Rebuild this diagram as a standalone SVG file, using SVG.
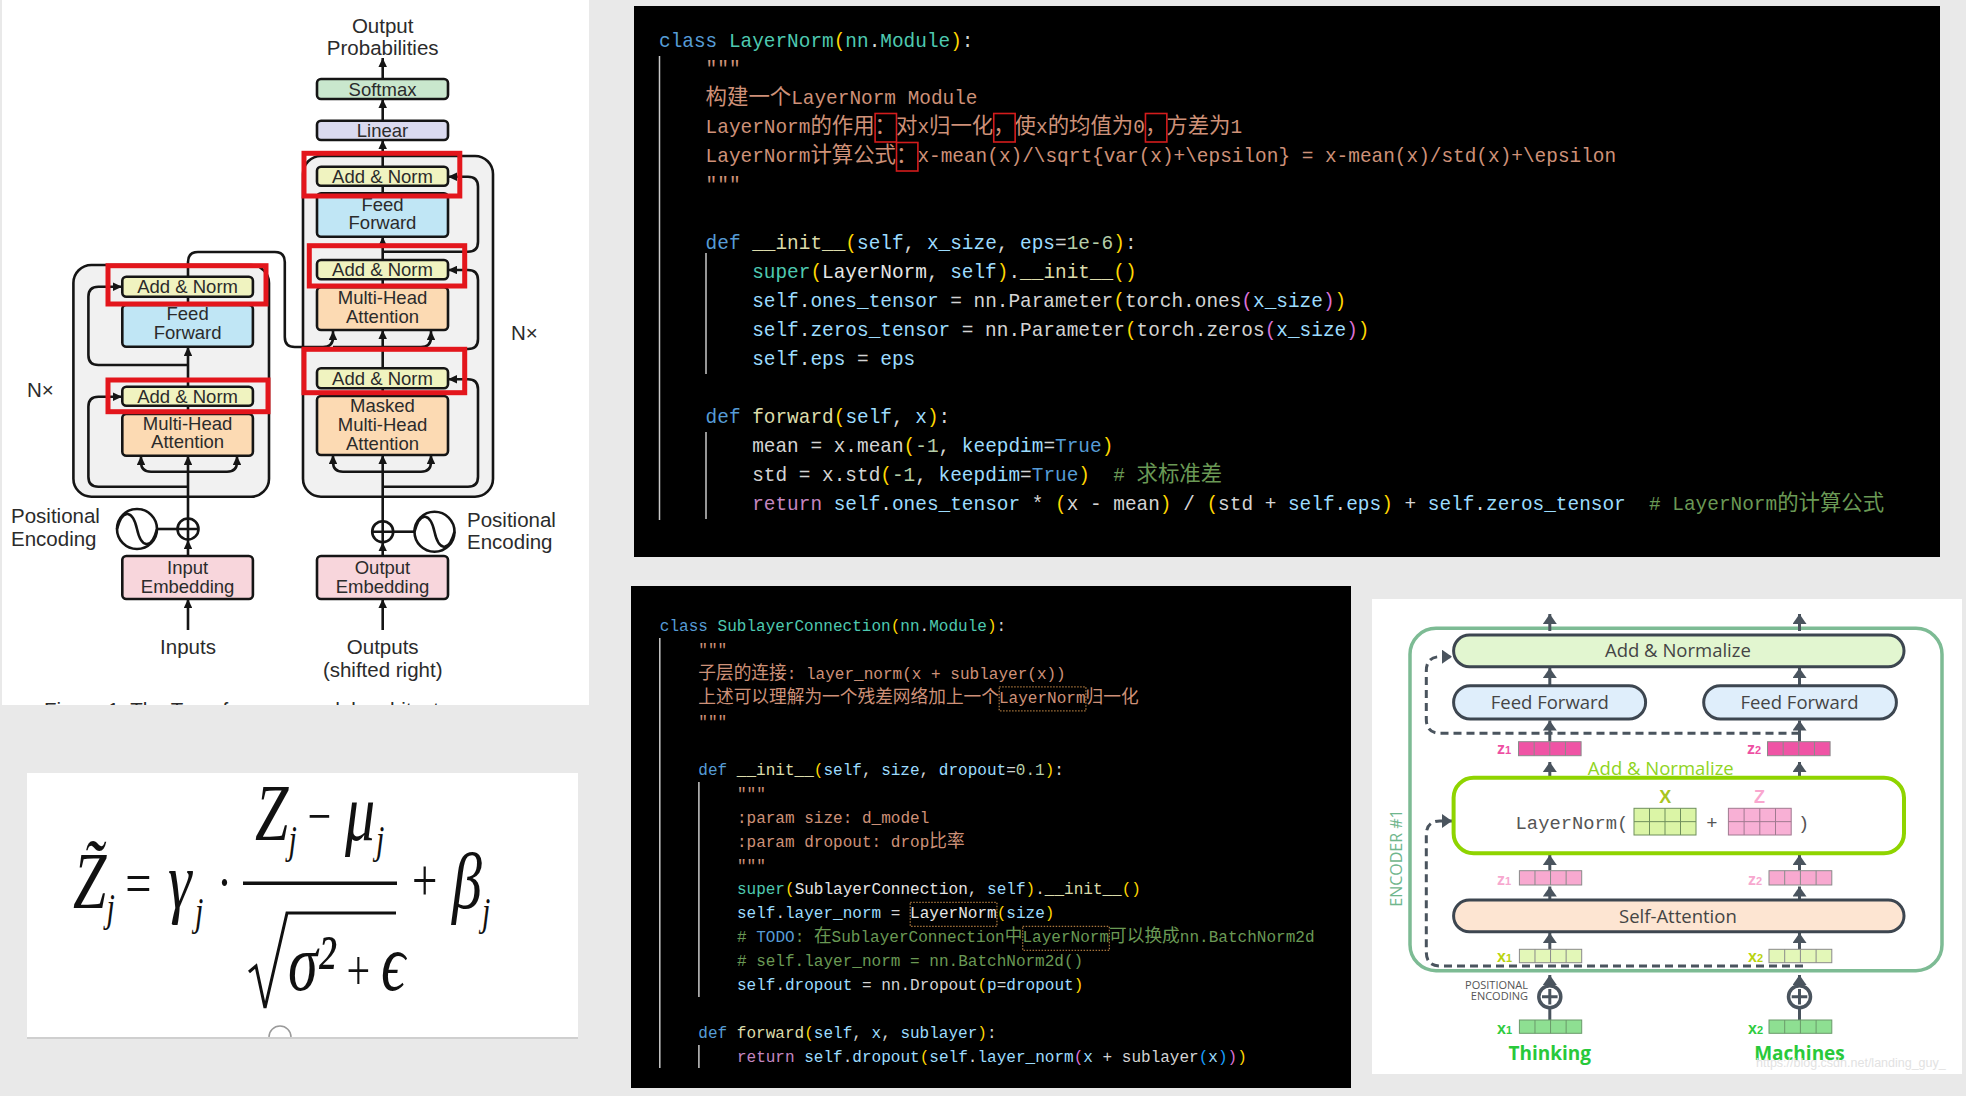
<svg xmlns="http://www.w3.org/2000/svg" width="1966" height="1096" viewBox="0 0 1966 1096">
<defs>
<style>
.tb{stroke:#151515;stroke-width:2.6}
.tl{font-family:"Liberation Sans",Arial,sans-serif;font-size:18.5px;fill:#2b2b2b;text-anchor:middle}
.tlb{font-family:"Liberation Sans",Arial,sans-serif;font-size:20.5px;fill:#2b2b2b}
.cn{fill:none;stroke:#151515;stroke-width:2.6}
.ar{marker-end:url(#ah)}
.red{fill:none;stroke:#e3161c;stroke-width:5}
.code1{font-family:"Liberation Mono","DejaVu Sans Mono",monospace;font-size:19.42px;fill:#d4d4d4;white-space:pre}
.code2{font-family:"Liberation Mono","DejaVu Sans Mono",monospace;font-size:16.05px;fill:#d4d4d4;white-space:pre}
.zh{font-family:"Noto Sans CJK SC",sans-serif;font-size:21.4px}
.zh2{font-family:"Noto Sans CJK SC",sans-serif;font-size:17.7px}
.k{fill:#569cd6}.t{fill:#4ec9b0}.s{fill:#ce9178}.f{fill:#dcdcaa}.v{fill:#9cdcfe}.n{fill:#b5cea8}.c{fill:#6a9955}.p1{fill:#ffd700}.p2{fill:#da70d6}.p3{fill:#179fff}.r{fill:#c586c0}.w{fill:#e6e6e6}
.guide{stroke:#c8c8c8;stroke-width:1.5}
.ubox{fill:none;stroke:#d41c1c;stroke-width:1.6}
.dbox{fill:none;stroke:#a8753c;stroke-width:1.3;stroke-dasharray:1.5 1.5}
.eb{stroke:#3d4650;stroke-width:3}
.el{font-family:"Open Sans","Liberation Sans",sans-serif;font-size:18.5px;fill:#454545;text-anchor:middle}
.ec{fill:none;stroke:#4a545e;stroke-width:3}
.ea{marker-end:url(#ah2)}
.dash{stroke-dasharray:8 5}
.cell{stroke:#8a8a8a;stroke-width:1}
.vl{font-family:"Liberation Sans",Arial,sans-serif;font-weight:bold;font-size:16px}
.fm{font-family:"Liberation Serif","DejaVu Serif",serif;font-style:italic;fill:#111}
.fr{font-style:normal}
</style>
<marker id="ah" viewBox="0 0 10 10" refX="10" refY="5" markerWidth="9" markerHeight="8.5" markerUnits="userSpaceOnUse" orient="auto" preserveAspectRatio="none"><path d="M0,0 L10,5 L0,10 z" fill="#151515"/></marker>
<marker id="ah2" viewBox="0 0 10 10" refX="10" refY="5" markerWidth="10" markerHeight="14" markerUnits="userSpaceOnUse" orient="auto" preserveAspectRatio="none"><path d="M0,0 L10,5 L0,10 z" fill="#4a545e"/></marker>
<clipPath id="capclip"><rect x="0" y="690" width="590" height="15"/></clipPath>
</defs>
<rect width="1966" height="1096" fill="#e9e9e9"/>

<!-- ============ Transformer panel ============ -->
<g id="panel-transformer">
<rect x="2" y="0" width="587" height="705" fill="#fff"/>
<g id="enc-block"><rect x="73.4" y="265" width="195.6" height="231.7" rx="18" fill="#f1f1f1" class="tb"/></g>
<g id="dec-block"><rect x="303" y="156" width="190" height="340.7" rx="18" fill="#f1f1f1" class="tb"/></g>

<g id="tf-connectors">
<path class="cn ar" d="M188,630 V599"/>
<path class="cn ar" d="M188,556 V540"/>
<path class="cn ar" d="M188,518.5 V456"/>
<path class="cn ar" d="M188,471.7 H151 Q141,471.7 141,461.7 V456"/>
<path class="cn ar" d="M188,471.7 H227 Q237,471.7 237,461.7 V456"/>
<path class="cn ar" d="M188,486.7 H98.4 Q88.4,486.7 88.4,476.7 V406.7 Q88.4,396.7 98.4,396.7 H122"/>
<path class="cn" d="M188,414 V405.7"/>
<path class="cn ar" d="M188,386.7 V347"/>
<path class="cn ar" d="M188,365 H98.4 Q88.4,365 88.4,355 V296.7 Q88.4,286.7 98.4,286.7 H122"/>
<path class="cn" d="M188,305 V296.7"/>
<path class="cn ar" d="M188,276.7 V262 Q188,252 198,252 H274.8 Q284.8,252 284.8,262 V337 Q284.8,347 294.8,347 H323 Q333,347 333,337 V331"/>
<path class="cn ar" d="M333,347 H421 Q431,347 431,337 V331"/>
<path class="cn" d="M157,529 H177.5"/>
<path class="cn ar" d="M382.7,630 V599"/>
<path class="cn ar" d="M382.7,556 V542.2"/>
<path class="cn ar" d="M382.7,521.2 V455"/>
<path class="cn ar" d="M382.7,471.7 H343 Q333,471.7 333,461.7 V455"/>
<path class="cn ar" d="M382.7,471.7 H421 Q431,471.7 431,461.7 V455"/>
<path class="cn ar" d="M382.7,486.7 H468 Q478,486.7 478,476.7 V389.3 Q478,379.3 468,379.3 H448"/>
<path class="cn" d="M382.7,396 V388.3"/>
<path class="cn ar" d="M382.7,368.3 V330"/>
<path class="cn ar" d="M382.7,349 H468 Q478,349 478,339 V280 Q478,270 468,270 H448"/>
<path class="cn" d="M382.7,287.3 V279.3"/>
<path class="cn ar" d="M382.7,260 V236.7"/>
<path class="cn ar" d="M382.7,251.7 H468 Q478,251.7 478,241.7 V186.7 Q478,176.7 468,176.7 H448"/>
<path class="cn" d="M382.7,193.3 V185.7"/>
<path class="cn ar" d="M382.7,166.7 V140"/>
<path class="cn ar" d="M382.7,120.7 V99"/>
<path class="cn ar" d="M382.7,79 V58"/>
<path class="cn" d="M393.2,531.7 H414.5"/>
</g>

<g id="enc-addnorm-top"><rect x="122.3" y="276.7" width="130.6" height="20" rx="4" fill="#f0f3c0" class="tb"/><text class="tl" x="187.6" y="293.3">Add &amp; Norm</text></g>
<g id="enc-ff"><rect x="122.3" y="305" width="130.6" height="41.7" rx="4" fill="#c0e6f5" class="tb"/><text class="tl" x="187.6" y="320">Feed</text><text class="tl" x="187.6" y="339">Forward</text></g>
<g id="enc-addnorm-2"><rect x="122.3" y="386.7" width="130.6" height="19" rx="4" fill="#f0f3c0" class="tb"/><text class="tl" x="187.6" y="402.8">Add &amp; Norm</text></g>
<g id="enc-mha"><rect x="122.3" y="414" width="130.6" height="41.7" rx="4" fill="#fcdab3" class="tb"/><text class="tl" x="187.6" y="430">Multi-Head</text><text class="tl" x="187.6" y="448.3">Attention</text></g>
<g id="enc-emb"><rect x="122.3" y="556" width="130.6" height="43" rx="4" fill="#f8d6dc" class="tb"/><text class="tl" x="187.6" y="574.3">Input</text><text class="tl" x="187.6" y="593.3">Embedding</text></g>
<g id="enc-plus"><circle cx="188" cy="529" r="10.5" fill="#fff" class="tb"/><path class="cn" d="M177.5,529 H198.5 M188,518.5 V539.5"/></g>
<g id="enc-wave"><circle cx="137" cy="529" r="20" fill="#fff" class="tb"/><path class="cn" d="M117,529 C123,507 133,511 137,529 C141,547 151,551 157,529"/></g>

<g id="dec-softmax"><rect x="317" y="79" width="131" height="20" rx="4" fill="#c9e7cd" class="tb"/><text class="tl" x="382.5" y="95.6">Softmax</text></g>
<g id="dec-linear"><rect x="317" y="120.7" width="131" height="19.3" rx="4" fill="#dadaef" class="tb"/><text class="tl" x="382.5" y="137">Linear</text></g>
<g id="dec-addnorm-1"><rect x="317" y="166.7" width="131" height="19" rx="4" fill="#f0f3c0" class="tb"/><text class="tl" x="382.5" y="182.8">Add &amp; Norm</text></g>
<g id="dec-ff"><rect x="317" y="193.3" width="131" height="43.4" rx="4" fill="#c0e6f5" class="tb"/><text class="tl" x="382.5" y="210.6">Feed</text><text class="tl" x="382.5" y="229.3">Forward</text></g>
<g id="dec-addnorm-2"><rect x="317" y="260" width="131" height="19.3" rx="4" fill="#f0f3c0" class="tb"/><text class="tl" x="382.5" y="276.3">Add &amp; Norm</text></g>
<g id="dec-mha"><rect x="317" y="287.3" width="131" height="42.7" rx="4" fill="#fcdab3" class="tb"/><text class="tl" x="382.5" y="304.3">Multi-Head</text><text class="tl" x="382.5" y="323.3">Attention</text></g>
<g id="dec-addnorm-3"><rect x="317" y="368.3" width="131" height="20" rx="4" fill="#f0f3c0" class="tb"/><text class="tl" x="382.5" y="385">Add &amp; Norm</text></g>
<g id="dec-mmha"><rect x="317" y="396" width="131" height="59" rx="4" fill="#fcdab3" class="tb"/><text class="tl" x="382.5" y="412.3">Masked</text><text class="tl" x="382.5" y="431">Multi-Head</text><text class="tl" x="382.5" y="450">Attention</text></g>
<g id="dec-emb"><rect x="317" y="556" width="131" height="43" rx="4" fill="#f8d6dc" class="tb"/><text class="tl" x="382.5" y="574.3">Output</text><text class="tl" x="382.5" y="593.3">Embedding</text></g>
<g id="dec-plus"><circle cx="382.7" cy="531.7" r="10.5" fill="#fff" class="tb"/><path class="cn" d="M372.2,531.7 H393.2 M382.7,521.2 V542.2"/></g>
<g id="dec-wave"><circle cx="434.5" cy="531.7" r="20" fill="#fff" class="tb"/><path class="cn" d="M414.5,531.7 C420.5,509.7 430.5,513.7 434.5,531.7 C438.5,549.7 448.5,553.7 454.5,531.7"/></g>

<g id="tf-labels">
<text class="tlb" x="382.7" y="32.5" text-anchor="middle">Output</text>
<text class="tlb" x="382.7" y="54.5" text-anchor="middle">Probabilities</text>
<text class="tlb" x="188" y="654" text-anchor="middle">Inputs</text>
<text class="tlb" x="382.7" y="654" text-anchor="middle">Outputs</text>
<text class="tlb" x="382.7" y="676.5" text-anchor="middle">(shifted right)</text>
<text class="tlb" x="11" y="523">Positional</text>
<text class="tlb" x="11" y="545.5">Encoding</text>
<text class="tlb" x="467" y="526.5">Positional</text>
<text class="tlb" x="467" y="548.7">Encoding</text>
<text class="tlb" x="27" y="397">N×</text>
<text class="tlb" x="511" y="340">N×</text>
</g>

<g id="red-highlights">
<rect class="red" x="304" y="153.3" width="155.8" height="42.7"/>
<rect class="red" x="309.3" y="245.7" width="155.4" height="40.3"/>
<rect class="red" x="304" y="349.3" width="160.7" height="43.4"/>
<rect class="red" x="108" y="265.7" width="158" height="38.3"/>
<rect class="red" x="108" y="380" width="160" height="31.7"/>
</g>
<text class="tlb" x="44" y="716.5" font-size="21" clip-path="url(#capclip)">Figure 1: The Transformer - model architecture.</text>
</g>

<!-- ============ Formula panel ============ -->
<g id="panel-formula">
<rect x="27" y="773" width="551" height="264" fill="#fff"/>
<line x1="27" y1="1038" x2="578" y2="1038" stroke="#cfcfcf" stroke-width="2"/>
<path d="M269,1037 A11,11 0 0 1 291,1037" fill="#fff" stroke="#9a9a9a" stroke-width="1.5"/>
<g id="formula">
<rect x="243" y="881.5" width="154" height="3.5" fill="#111"/>
<polyline points="249,972 256,966 265,1008 287,913 396,913" fill="none" stroke="#111" stroke-width="3"/>
<g transform="scale(0.75,1)">
<text class="fm" font-size="80"><tspan x="97.33" y="908">Z&#x303;</tspan><tspan x="142" y="921" font-size="40">j</tspan><tspan class="fr" x="167" y="904" font-size="62">=</tspan><tspan x="224" y="908">γ</tspan><tspan x="260" y="925" font-size="40">j</tspan><tspan class="fr" x="289.33" y="902" font-size="60">·</tspan><tspan x="340" y="840">Z</tspan><tspan x="384.67" y="853" font-size="40">j</tspan><tspan class="fr" x="410" y="835" font-size="56">−</tspan><tspan x="460" y="840">μ</tspan><tspan x="501.33" y="853" font-size="40">j</tspan><tspan x="384" y="990">σ²</tspan><tspan class="fr" x="462" y="990" font-size="56">+</tspan><tspan x="508" y="990">ϵ</tspan><tspan class="fr" x="549.33" y="900" font-size="60">+</tspan><tspan x="602.67" y="908">β</tspan><tspan x="642.67" y="925" font-size="40">j</tspan></text>
</g>
</g>
</g>

<!-- ============ Code panel 1 ============ -->
<g id="panel-code-layernorm">
<rect x="634" y="6" width="1306" height="551" fill="#000"/>
<path class="guide" d="M659.5,56 V520 M706,253 V374 M706,432 V519"/>
<g xml:space="preserve">
<text class="code1" x="659" y="46.5"><tspan class="k">class</tspan> <tspan class="t">LayerNorm</tspan><tspan class="p1">(</tspan><tspan class="t">nn</tspan>.<tspan class="t">Module</tspan><tspan class="p1">)</tspan>:</text>
<text class="code1 s" x="705.6" y="75.45">"""</text>
<text class="code1 s" x="705.6" y="104.4"><tspan class="zh">构建一个</tspan>LayerNorm Module</text>
<text class="code1 s" x="705.6" y="133.35">LayerNorm<tspan class="zh">的作用：对</tspan>x<tspan class="zh">归一化，使</tspan>x<tspan class="zh">的均值为</tspan>0<tspan class="zh">，方差为</tspan>1</text>
<text class="code1 s" x="705.6" y="162.3">LayerNorm<tspan class="zh">计算公式：</tspan>x-mean(x)/\sqrt{var(x)+\epsilon} = x-mean(x)/std(x)+\epsilon</text>
<text class="code1 s" x="705.6" y="191.25">"""</text>
<text class="code1" x="705.6" y="249.15"><tspan class="k">def</tspan> <tspan class="f">__init__</tspan><tspan class="p1">(</tspan><tspan class="v">self</tspan>, <tspan class="v">x_size</tspan>, <tspan class="v">eps</tspan>=<tspan class="n">1e-6</tspan><tspan class="p1">)</tspan>:</text>
<text class="code1" x="752.2" y="278.1"><tspan class="t">super</tspan><tspan class="p1">(</tspan><tspan class="w">LayerNorm</tspan>, <tspan class="v">self</tspan><tspan class="p1">)</tspan>.<tspan class="f">__init__</tspan><tspan class="p1">()</tspan></text>
<text class="code1" x="752.2" y="307.05"><tspan class="v">self</tspan>.<tspan class="v">ones_tensor</tspan> = nn.Parameter<tspan class="p1">(</tspan>torch.ones<tspan class="p2">(</tspan><tspan class="v">x_size</tspan><tspan class="p2">)</tspan><tspan class="p1">)</tspan></text>
<text class="code1" x="752.2" y="336"><tspan class="v">self</tspan>.<tspan class="v">zeros_tensor</tspan> = nn.Parameter<tspan class="p1">(</tspan>torch.zeros<tspan class="p2">(</tspan><tspan class="v">x_size</tspan><tspan class="p2">)</tspan><tspan class="p1">)</tspan></text>
<text class="code1" x="752.2" y="364.95"><tspan class="v">self</tspan>.<tspan class="v">eps</tspan> = <tspan class="v">eps</tspan></text>
<text class="code1" x="705.6" y="422.85"><tspan class="k">def</tspan> <tspan class="f">forward</tspan><tspan class="p1">(</tspan><tspan class="v">self</tspan>, <tspan class="v">x</tspan><tspan class="p1">)</tspan>:</text>
<text class="code1" x="752.2" y="451.8">mean = x.mean<tspan class="p1">(</tspan><tspan class="n">-1</tspan>, <tspan class="v">keepdim</tspan>=<tspan class="k">True</tspan><tspan class="p1">)</tspan></text>
<text class="code1" x="752.2" y="480.75">std = x.std<tspan class="p1">(</tspan><tspan class="n">-1</tspan>, <tspan class="v">keepdim</tspan>=<tspan class="k">True</tspan><tspan class="p1">)</tspan><tspan class="c">  # <tspan class="zh">求标准差</tspan></tspan></text>
<text class="code1" x="752.2" y="509.7"><tspan class="r">return</tspan> <tspan class="v">self</tspan>.<tspan class="v">ones_tensor</tspan> * <tspan class="p1">(</tspan>x - mean<tspan class="p1">)</tspan> / <tspan class="p1">(</tspan>std + <tspan class="v">self</tspan>.<tspan class="v">eps</tspan><tspan class="p1">)</tspan> + <tspan class="v">self</tspan>.<tspan class="v">zeros_tensor</tspan><tspan class="c">  # LayerNorm<tspan class="zh">的计算公式</tspan></tspan></text>
</g>
<rect class="ubox" x="875.1" y="113.5" width="21.4" height="28.5"/>
<rect class="ubox" x="993.75" y="113.5" width="21.4" height="28.5"/>
<rect class="ubox" x="1145.45" y="113.5" width="21.4" height="28.5"/>
<rect class="ubox" x="896.5" y="142.5" width="21.4" height="28.5"/>
</g>

<!-- ============ Code panel 2 ============ -->
<g id="panel-code-sublayer">
<rect x="631" y="586" width="720" height="502" fill="#000"/>
<path class="guide" d="M659.8,638 V1068 M698.9,782 V997 M698.9,1045 V1068"/>
<g xml:space="preserve">
<text class="code2" x="659.8" y="631"><tspan class="k">class</tspan> <tspan class="t">SublayerConnection</tspan><tspan class="p1">(</tspan><tspan class="t">nn</tspan>.<tspan class="t">Module</tspan><tspan class="p1">)</tspan>:</text>
<text class="code2 s" x="698.3" y="654.95">"""</text>
<text class="code2 s" x="698.3" y="678.9"><tspan class="zh2">子层的连接</tspan>: layer_norm(x + sublayer(x))</text>
<text class="code2 s" x="698.3" y="702.85"><tspan class="zh2">上述可以理解为一个残差网络加上一个</tspan>LayerNorm<tspan class="zh2">归一化</tspan></text>
<text class="code2 s" x="698.3" y="726.8">"""</text>
<text class="code2" x="698.3" y="774.7"><tspan class="k">def</tspan> <tspan class="f">__init__</tspan><tspan class="p1">(</tspan><tspan class="v">self</tspan>, <tspan class="v">size</tspan>, <tspan class="v">dropout</tspan>=<tspan class="n">0.1</tspan><tspan class="p1">)</tspan>:</text>
<text class="code2 s" x="736.9" y="798.65">"""</text>
<text class="code2 s" x="736.9" y="822.6">:param size: d_model</text>
<text class="code2 s" x="736.9" y="846.55">:param dropout: drop<tspan class="zh2">比率</tspan></text>
<text class="code2 s" x="736.9" y="870.5">"""</text>
<text class="code2" x="736.9" y="894.45"><tspan class="t">super</tspan><tspan class="p1">(</tspan><tspan class="w">SublayerConnection</tspan>, <tspan class="v">self</tspan><tspan class="p1">)</tspan>.<tspan class="f">__init__</tspan><tspan class="p1">()</tspan></text>
<text class="code2" x="736.9" y="918.4"><tspan class="v">self</tspan>.<tspan class="v">layer_norm</tspan> = <tspan class="w">LayerNorm</tspan><tspan class="p1">(</tspan><tspan class="v">size</tspan><tspan class="p1">)</tspan></text>
<text class="code2 c" x="736.9" y="942.35"># <tspan class="k">TODO</tspan>: <tspan class="zh2">在</tspan>SublayerConnection<tspan class="zh2">中</tspan>LayerNorm<tspan class="zh2">可以换成</tspan>nn.BatchNorm2d</text>
<text class="code2 c" x="736.9" y="966.3"># self.layer_norm = nn.BatchNorm2d()</text>
<text class="code2" x="736.9" y="990.25"><tspan class="v">self</tspan>.<tspan class="v">dropout</tspan> = nn.Dropout<tspan class="p1">(</tspan><tspan class="v">p</tspan>=<tspan class="v">dropout</tspan><tspan class="p1">)</tspan></text>
<text class="code2" x="698.3" y="1038.15"><tspan class="k">def</tspan> <tspan class="f">forward</tspan><tspan class="p1">(</tspan><tspan class="v">self</tspan>, <tspan class="v">x</tspan>, <tspan class="v">sublayer</tspan><tspan class="p1">)</tspan>:</text>
<text class="code2" x="736.9" y="1062.1"><tspan class="r">return</tspan> <tspan class="v">self</tspan>.<tspan class="v">dropout</tspan><tspan class="p1">(</tspan><tspan class="v">self</tspan>.<tspan class="v">layer_norm</tspan><tspan class="p2">(</tspan><tspan class="v">x</tspan> + sublayer<tspan class="p3">(</tspan><tspan class="v">x</tspan><tspan class="p3">)</tspan><tspan class="p2">)</tspan><tspan class="p1">)</tspan></text>
</g>
<rect class="dbox" x="999.2" y="686.85" width="86.7" height="24"/>
<rect class="dbox" x="910.24" y="902.4" width="86.7" height="24"/>
<rect class="dbox" x="1022.68" y="926.35" width="86.7" height="24"/>
</g>

<!-- ============ Encoder illustration ============ -->
<g id="panel-encoder">
<rect x="1372" y="599" width="590" height="475" fill="#fff"/>
<g id="encoder-frame"><rect x="1410" y="628.3" width="532" height="342.4" rx="26" fill="none" stroke="#7dbb94" stroke-width="3.5"/>
<text transform="translate(1401.5,858) rotate(-90)" text-anchor="middle" font-family="'Open Sans','Liberation Sans',sans-serif" font-size="16" fill="#6fb68c">ENCODER #1</text></g>

<g id="enc-connectors">
<path class="ec ea" d="M1549.8,631 V614"/>
<path class="ec ea" d="M1799.5,631 V614"/>
<path class="ec ea" d="M1549.8,685.7 V668"/>
<path class="ec ea" d="M1799.5,685.7 V668"/>
<path class="ec ea" d="M1549.8,741.7 V720.5"/>
<path class="ec ea" d="M1799.5,741.7 V720.5"/>
<path class="ec ea" d="M1549.8,777.7 V762"/>
<path class="ec ea" d="M1799.5,777.7 V762"/>
<path class="ec ea" d="M1549.8,870.7 V855"/>
<path class="ec ea" d="M1799.5,870.7 V855"/>
<path class="ec ea" d="M1549.8,900 V886.5"/>
<path class="ec ea" d="M1799.5,900 V886.5"/>
<path class="ec ea" d="M1549.8,949.3 V933"/>
<path class="ec ea" d="M1799.5,949.3 V933"/>
<path class="ec ea" d="M1549.8,985.7 V975"/>
<path class="ec ea" d="M1799.5,985.7 V975"/>
<path class="ec" d="M1549.8,1020 V1007.7 M1799.5,1020 V1007.7"/>
<path class="ec ea dash" d="M1799.5,733.3 H1440 Q1426.3,733.3 1426.3,719 V671 Q1426.3,656.7 1440,656.7 H1452"/>
<path class="ec ea dash" d="M1803,966 H1440 Q1426.3,966 1426.3,952 V835 Q1426.3,821 1440,821 H1452"/>
</g>

<g id="add-normalize-top"><rect x="1453.6" y="635" width="450.4" height="31.7" rx="15.8" fill="#e2f6d0" class="eb"/><text class="el" x="1677.9" y="656.5">Add &amp; Normalize</text></g>
<g id="ff-left"><rect x="1453.6" y="685.7" width="192" height="33.3" rx="16.6" fill="#dfeefb" class="eb"/><text class="el" x="1549.8" y="708.8">Feed Forward</text></g>
<g id="ff-right"><rect x="1703.7" y="685.7" width="192.7" height="33.3" rx="16.6" fill="#dfeefb" class="eb"/><text class="el" x="1799.5" y="708.8">Feed Forward</text></g>

<g id="z1-top"><rect x="1518.5" y="741.7" width="62.6" height="14" fill="#ef54a5" class="cell"/><path class="cell" d="M1534.15,741.7 v14 M1549.8,741.7 v14 M1565.45,741.7 v14"/><text class="vl" x="1497" y="754" fill="#ee4fa3">z<tspan font-size="11">1</tspan></text></g>
<g id="z2-top"><rect x="1767.5" y="741.7" width="62.6" height="14" fill="#ef54a5" class="cell"/><path class="cell" d="M1783.15,741.7 v14 M1798.8,741.7 v14 M1814.45,741.7 v14"/><text class="vl" x="1747" y="754" fill="#ee4fa3">z<tspan font-size="11">2</tspan></text></g>

<text x="1660.8" y="775" text-anchor="middle" font-family="'Open Sans','Liberation Sans',sans-serif" font-size="18.5" fill="#8fd41e">Add &amp; Normalize</text>

<g id="layernorm-box"><rect x="1453.6" y="777.7" width="450.4" height="75.6" rx="20" fill="#fff" stroke="#8fd400" stroke-width="4"/>
<text x="1515.6" y="829" font-family="'Liberation Mono','DejaVu Sans Mono',monospace" font-size="18.8" fill="#555">LayerNorm(</text>
<rect x="1634" y="808.3" width="62" height="26.7" fill="#dbf5a6" stroke="#6f8f5c" stroke-width="1"/><path d="M1649.5,808.3 v26.7 M1665,808.3 v26.7 M1680.5,808.3 v26.7 M1634,821.65 h62" stroke="#6f8f5c" stroke-width="1"/>
<text x="1665.3" y="803" text-anchor="middle" font-family="'Liberation Sans',Arial,sans-serif" font-weight="bold" font-size="18" fill="#a9c520">X</text>
<text x="1712" y="829" text-anchor="middle" font-family="'Liberation Mono','DejaVu Sans Mono',monospace" font-size="18.8" fill="#555">+</text>
<rect x="1728.4" y="808.3" width="62.8" height="26.7" fill="#f8b0d5" stroke="#a07a90" stroke-width="1"/><path d="M1744.1,808.3 v26.7 M1759.8,808.3 v26.7 M1775.5,808.3 v26.7 M1728.4,821.65 h62.8" stroke="#a07a90" stroke-width="1"/>
<text x="1759.6" y="803" text-anchor="middle" font-family="'Liberation Sans',Arial,sans-serif" font-weight="bold" font-size="18" fill="#f9a7cf">Z</text>
<text x="1798" y="829" font-family="'Liberation Mono','DejaVu Sans Mono',monospace" font-size="18.8" fill="#555">)</text></g>

<g id="z1-low"><rect x="1519.4" y="870.7" width="62.3" height="14.3" fill="#f8a9d0" class="cell"/><path class="cell" d="M1534.975,870.7 v14.3 M1550.55,870.7 v14.3 M1566.125,870.7 v14.3"/><text class="vl" x="1497" y="885" fill="#f7a8cf">z<tspan font-size="11">1</tspan></text></g>
<g id="z2-low"><rect x="1769" y="870.7" width="62.8" height="14.3" fill="#f8a9d0" class="cell"/><path class="cell" d="M1784.7,870.7 v14.3 M1800.4,870.7 v14.3 M1816.1,870.7 v14.3"/><text class="vl" x="1748" y="885" fill="#f7a8cf">z<tspan font-size="11">2</tspan></text></g>

<g id="self-attention"><rect x="1453.6" y="900" width="450.4" height="31.7" rx="15.8" fill="#fde5d2" class="eb"/><text class="el" x="1677.9" y="923">Self-Attention</text></g>

<g id="x1-lime"><rect x="1519.4" y="949.3" width="62.3" height="13.4" fill="#e3f7b8" class="cell"/><path class="cell" d="M1534.975,949.3 v13.4 M1550.55,949.3 v13.4 M1566.125,949.3 v13.4"/><text class="vl" x="1497" y="962" fill="#b9d40f">x<tspan font-size="11">1</tspan></text></g>
<g id="x2-lime"><rect x="1769" y="949.3" width="62.8" height="13.4" fill="#e3f7b8" class="cell"/><path class="cell" d="M1784.7,949.3 v13.4 M1800.4,949.3 v13.4 M1816.1,949.3 v13.4"/><text class="vl" x="1748" y="962" fill="#b9d40f">x<tspan font-size="11">2</tspan></text></g>

<g id="pe-plus-1"><circle cx="1549.8" cy="996.7" r="11" fill="#fff" stroke="#4a545e" stroke-width="3.5"/><path d="M1542,996.7 h15.6 M1549.8,988.9 v15.6" stroke="#4a545e" stroke-width="3"/></g>
<g id="pe-plus-2"><circle cx="1799.5" cy="996.7" r="11" fill="#fff" stroke="#4a545e" stroke-width="3.5"/><path d="M1791.7,996.7 h15.6 M1799.5,988.9 v15.6" stroke="#4a545e" stroke-width="3"/></g>
<text x="1528" y="988.5" text-anchor="end" font-family="'Open Sans','Liberation Sans',sans-serif" font-size="11" fill="#555">POSITIONAL</text>
<text x="1528" y="1000" text-anchor="end" font-family="'Open Sans','Liberation Sans',sans-serif" font-size="11" fill="#555">ENCODING</text>

<g id="x1-green"><rect x="1519.4" y="1020" width="62.3" height="13.3" fill="#8edf92" stroke="#6a9a6a" stroke-width="1"/><path d="M1534.975,1020 v13.3 M1550.55,1020 v13.3 M1566.125,1020 v13.3" stroke="#6a9a6a" stroke-width="1"/><text class="vl" x="1497" y="1034" fill="#2ecc40">x<tspan font-size="11">1</tspan></text></g>
<g id="x2-green"><rect x="1769" y="1020" width="62.8" height="13.3" fill="#8edf92" stroke="#6a9a6a" stroke-width="1"/><path d="M1784.7,1020 v13.3 M1800.4,1020 v13.3 M1816.1,1020 v13.3" stroke="#6a9a6a" stroke-width="1"/><text class="vl" x="1748" y="1034" fill="#2ecc40">x<tspan font-size="11">2</tspan></text></g>

<text x="1549.8" y="1060" text-anchor="middle" font-family="'Open Sans','Liberation Sans',sans-serif" font-weight="bold" font-size="19" fill="#28c93a">Thinking</text>
<text x="1799.5" y="1060" text-anchor="middle" font-family="'Open Sans','Liberation Sans',sans-serif" font-weight="bold" font-size="19" fill="#28c93a">Machines</text>
<text x="1756" y="1067" font-family="'Liberation Sans',Arial,sans-serif" font-size="12.5" fill="#e2e2e2">https://blog.csdn.net/landing_guy_</text>
</g>
</svg>
